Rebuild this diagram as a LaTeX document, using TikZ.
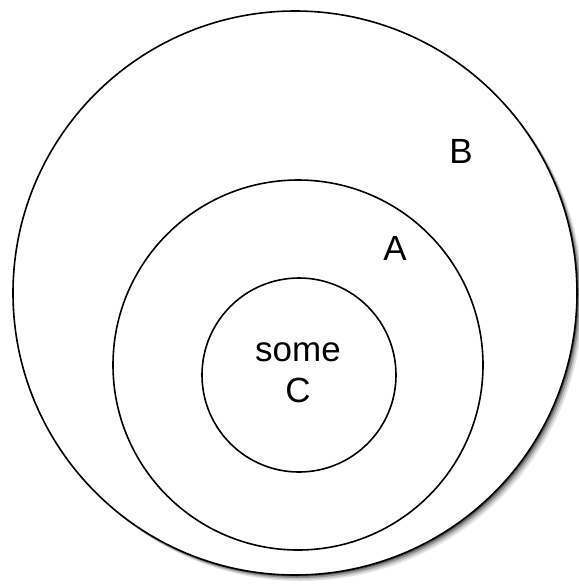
\documentclass[tikz,border=0pt]{standalone}
\usepackage{fontspec}
\setmainfont{Liberation Sans}
\usetikzlibrary{positioning, shadows}

\begin{document}
\begin{tikzpicture}[
    x=0.5pt, y=-0.5pt,
    set/.style={circle, draw, line width=0.8pt, inner sep=0pt},
    setlabel/.style={font=\fontsize{17.5}{20.5}\selectfont, align=center, inner sep=0pt},
    shadowring/.style={fill=black, opacity=#1},
]
\useasboundingbox (0,0) rectangle (579,585);

% soft shadow of the outer set
\foreach \s/\o in {6/0.1, 4.5/0.15, 3/0.25, 1.5/0.4}
    \fill [shadowring=\o] (295+\s,293+\s) circle [radius=141pt];

\node [set, fill=white, minimum size=282pt] (setB) at (295,293) {};
\node [set, minimum size=185pt] (setA) at (298,365) {};
\node [set, minimum size=97pt] (setC) at (299,375) {};

\node [setlabel] (labB) at (461,151) {B};
\node [setlabel] (labA) at (395,248) {A};
\node [setlabel] (labC) at (298,373) {some\\C};
\end{tikzpicture}
\end{document}
